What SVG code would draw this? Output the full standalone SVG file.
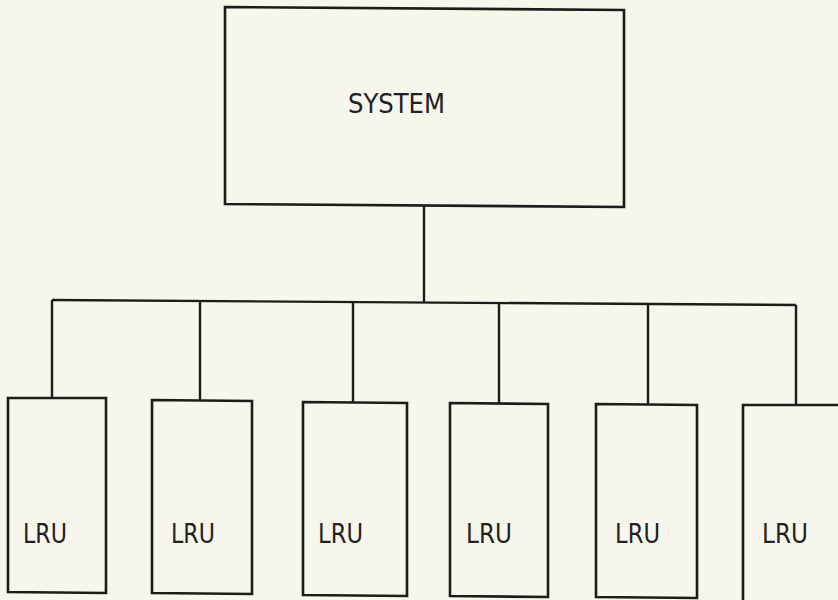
<svg xmlns="http://www.w3.org/2000/svg" width="838" height="600" viewBox="0 0 838 600">
<style>
.b{fill:none;stroke:#1c1c1a;stroke-width:2.6;stroke-linejoin:miter}
.c{fill:none;stroke:#1c1c1a;stroke-width:2.4}
.t{font-family:"DejaVu Sans","Liberation Sans",sans-serif;font-size:27px;fill:#222}
</style>
<rect width="838" height="600" fill="#f7f6ec"/>
<g id="connectors">
<path class="c" d="M424,206 L424,302"/>
<path class="c" d="M52,300 L796,305"/>
<path class="c" d="M52,300 L52,398"/>
<path class="c" d="M200,301 L200,400"/>
<path class="c" d="M353,302 L353,402"/>
<path class="c" d="M499,303 L499,403"/>
<path class="c" d="M648,304 L648,404"/>
<path class="c" d="M796,305 L796,405"/>
</g>
<g id="system">
<path class="b" d="M225,7 L624,10 L624,207 L225,204 Z"/>
<text class="t" x="348" y="113" textLength="97" lengthAdjust="spacingAndGlyphs">SYSTEM</text>
</g>
<g id="lru1">
<path class="b" d="M8,398 L106,398 L106,593 L8,592 Z"/>
<text class="t" x="23" y="543" textLength="44" lengthAdjust="spacingAndGlyphs">LRU</text>
</g>
<g id="lru2">
<path class="b" d="M152,400 L252,401 L252,594 L152,593 Z"/>
<text class="t" x="171" y="543" textLength="44" lengthAdjust="spacingAndGlyphs">LRU</text>
</g>
<g id="lru3">
<path class="b" d="M303,402 L407,403 L407,596 L303,595 Z"/>
<text class="t" x="318" y="543" textLength="45" lengthAdjust="spacingAndGlyphs">LRU</text>
</g>
<g id="lru4">
<path class="b" d="M450,403 L548,404 L548,597 L450,596 Z"/>
<text class="t" x="466" y="543" textLength="46" lengthAdjust="spacingAndGlyphs">LRU</text>
</g>
<g id="lru5">
<path class="b" d="M596,404 L697,405 L697,598 L596,597 Z"/>
<text class="t" x="615" y="543" textLength="45" lengthAdjust="spacingAndGlyphs">LRU</text>
</g>
<g id="lru6">
<path class="b" d="M840,405 L743,405 L743,600"/>
<text class="t" x="762" y="543" textLength="46" lengthAdjust="spacingAndGlyphs">LRU</text>
</g>
</svg>
